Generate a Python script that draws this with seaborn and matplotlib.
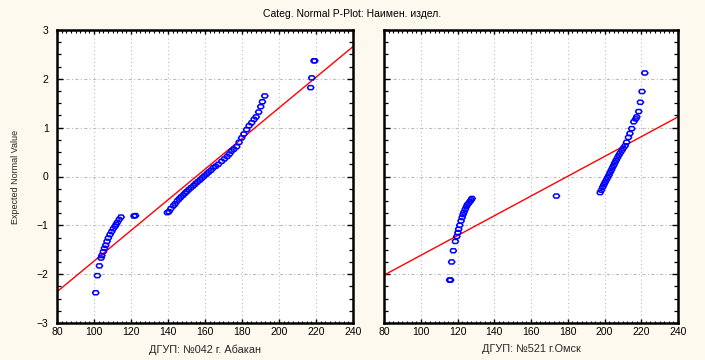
import numpy as np
import pandas as pd
import matplotlib
matplotlib.use("Agg")
import matplotlib.pyplot as plt
from matplotlib.ticker import MultipleLocator
import seaborn as sns

title = "Categ. Normal P-Plot: Наимен. издел."
ylabel = "Expected Normal Value"
panel_labels = ["ДГУП: №042 г. Абакан", "ДГУП: №521 г.Омск"]

abakan_x = [100.9, 101.8, 102.9, 103.8, 104.2, 105.0, 105.6, 106.3, 107.0, 107.7,
            108.6, 109.5, 110.4, 111.4, 112.0, 112.6, 113.6, 114.6,
            121.6, 122.4,
            139.6, 140.5, 141.5, 142.9, 143.8, 145.0, 146.0, 147.0, 148.2, 149.2,
            150.1, 151.2, 152.4, 153.7, 154.8, 156.0, 157.3, 158.4, 159.6, 160.9,
            162.0, 163.3, 164.5, 165.8, 167.2, 169.0, 170.5, 172.0, 173.2, 174.4,
            175.6, 177.1, 178.4, 179.8, 181.0, 182.5, 183.8, 185.2, 186.5, 187.6,
            189.0, 190.1, 191.0, 192.3,
            217.1, 217.7, 218.9, 219.3]
abakan_y = [-2.38, -2.03, -1.83, -1.67, -1.62, -1.54, -1.47, -1.41, -1.33, -1.26,
            -1.19, -1.13, -1.07, -1.02, -0.98, -0.94, -0.88, -0.83,
            -0.81, -0.80,
            -0.74, -0.72, -0.66, -0.60, -0.56, -0.50, -0.46, -0.42, -0.38, -0.34,
            -0.31, -0.27, -0.23, -0.19, -0.15, -0.11, -0.07, -0.03, 0.01, 0.05,
            0.09, 0.13, 0.18, 0.21, 0.25, 0.31, 0.36, 0.41, 0.46, 0.52,
            0.56, 0.61, 0.70, 0.79, 0.87, 0.96, 1.04, 1.10, 1.17, 1.22,
            1.32, 1.43, 1.53, 1.65,
            1.82, 2.02, 2.37, 2.37]

omsk_x = [115.7, 116.2, 116.8, 117.7, 118.8, 119.6, 120.2, 120.6, 121.2, 121.9,
          122.5, 123.0, 123.5, 124.2, 124.8, 125.3, 126.0, 126.8, 127.4, 127.9,
          173.8,
          197.6, 198.3, 199.0, 199.6, 200.3, 201.0, 201.7, 202.4, 203.0, 203.7,
          204.3, 205.0, 205.6, 206.3, 207.0, 207.7, 208.5, 209.4, 210.2, 211.2,
          212.0, 213.0, 213.8, 214.8, 215.9, 217.0, 217.5, 218.6, 219.5, 220.4,
          221.9]
omsk_y = [-2.12, -2.12, -1.75, -1.52, -1.33, -1.23, -1.15, -1.08, -1.00, -0.91,
          -0.84, -0.78, -0.73, -0.67, -0.62, -0.58, -0.55, -0.51, -0.48, -0.45,
          -0.40,
          -0.33, -0.28, -0.22, -0.17, -0.12, -0.07, -0.02, 0.03, 0.08, 0.13,
          0.18, 0.23, 0.28, 0.33, 0.38, 0.43, 0.48, 0.53, 0.58, 0.63,
          0.70, 0.80, 0.88, 0.98, 1.12, 1.18, 1.22, 1.33, 1.52, 1.74,
          2.12]

fit_x = [80, 240]
abakan_fit_y = [-2.36, 2.66]
omsk_fit_y = [-2.02, 1.22]

sns.set_theme(style="white")
plt.rcParams['font.family'] = ['Liberation Sans', 'DejaVu Sans']

bg = '#FEF9EE'
fig = plt.figure(figsize=(7.05, 3.6), dpi=100, facecolor=bg)
ax1 = fig.add_axes([57/705, 37/360, 296/705, 293/360])
ax2 = fig.add_axes([384/705, 37/360, 294/705, 293/360])

# flattened hexagon ring, like the reference's small oval markers
hex_marker = [(-1, 0), (-0.55, 0.62), (0.55, 0.62), (1, 0), (0.55, -0.62), (-0.55, -0.62), (-1, 0)]

panels = [
    (ax1, abakan_x, abakan_y, abakan_fit_y, panel_labels[0]),
    (ax2, omsk_x, omsk_y, omsk_fit_y, panel_labels[1]),
]
for i, (ax, xs, ys, fy, lab) in enumerate(panels):
    ax.set_facecolor('white')
    ax.set_xlim(80, 240)
    ax.set_ylim(-3, 3)
    ax.xaxis.set_major_locator(MultipleLocator(20))
    ax.xaxis.set_minor_locator(MultipleLocator(2.5))
    ax.yaxis.set_major_locator(MultipleLocator(1))
    ax.yaxis.set_minor_locator(MultipleLocator(0.25))
    ax.grid(False)
    for v in range(100, 240, 20):
        ax.axvline(v, color='#BDBDBD', lw=0.8, ls=(0, (1, 2.5)), zorder=0)
    for v in range(-2, 3):
        ax.axhline(v, color='#BDBDBD', lw=0.8, ls=(0, (3, 2, 1, 2)), zorder=0)
    df = pd.DataFrame({'x': xs, 'y': ys})
    fit = pd.DataFrame({'x': fit_x, 'y': fy})
    sns.lineplot(data=fit, x='x', y='y', ax=ax, color='#FF0000', lw=1.0, zorder=2)
    sns.scatterplot(data=df, x='x', y='y', ax=ax, marker=hex_marker, s=22,
                    facecolor='none', edgecolor='#0000FF', linewidth=1.1, zorder=3)
    for sp in ax.spines.values():
        sp.set_visible(True)
        sp.set_color('black')
        sp.set_linewidth(1.8)
    ax.tick_params(axis='both', which='both', direction='in', colors='black',
                   top=True, bottom=True, left=True, right=True, labelsize=7.5)
    ax.tick_params(axis='x', which='major', length=3, width=1, pad=3)
    ax.tick_params(axis='x', which='minor', length=1.8, width=0.8)
    ax.tick_params(axis='y', which='major', length=4, width=1, pad=6)
    ax.tick_params(axis='y', which='minor', length=3, width=0.9)
    ax.set_xlabel(lab, fontsize=7.8, labelpad=5)
    ax.set_ylabel('')
    if i == 1:
        ax.set_yticklabels([])
    for t in ax.get_xticklabels() + ax.get_yticklabels():
        t.set_color('black')

ax1.set_ylabel(ylabel, fontsize=6.5, labelpad=12)
fig.text(0.5, 0.962, title, ha='center', va='center', fontsize=7.5, color='black')

fig.savefig('out.png', dpi=100, facecolor=bg)
